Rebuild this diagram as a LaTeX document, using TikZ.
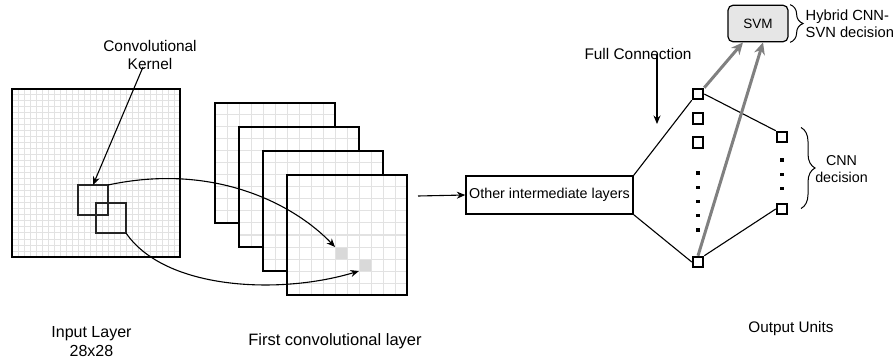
\documentclass[tikz,border=0pt]{standalone}
\usepackage{fontspec}
\setmainfont{Liberation Sans}
\usetikzlibrary{arrows.meta,decorations.pathreplacing}
\definecolor{gridgray}{HTML}{E2E2E2}
\definecolor{cellgray}{HTML}{D9D9D9}
\definecolor{svmgray}{HTML}{E6E6E6}
\definecolor{linkgray}{HTML}{808080}
\newcommand\setfs[2]{\fontsize{#1}{#2}\selectfont}

\begin{document}
\begin{tikzpicture}[x=1pt,y=-1pt,
  gridline/.style={gridgray,line width=1pt},
  plane/.style={draw,line width=2.2pt,minimum size=#1,inner sep=0pt,outer sep=0pt},
  kernel/.style={draw=black!85,line width=1.3pt,minimum size=30pt,inner sep=0pt,outer sep=0pt},
  cell/.style={fill=cellgray,minimum size=12pt,inner sep=0pt,outer sep=0pt},
  unit/.style={draw,line width=2pt,fill=white,minimum size=10.5pt,inner sep=0pt},
  dotmark/.style={fill=black,minimum size=3.4pt,inner sep=0pt},
  lbl/.style={align=center,inner sep=0pt},
  conn/.style={line width=1.1pt},
  arr/.style={line width=1.1pt,-{Stealth[length=8.5pt,width=7pt]}},
  svmarr/.style={linkgray,line width=3pt,-{Stealth[length=12pt,width=11pt]}},
  curly/.style={decorate,decoration={brace,amplitude=#1},line width=1pt}
]
\useasboundingbox (0,0) rectangle (893,363);

% input layer: 28x28 grid of 6pt cells
\fill[white] (12,89) rectangle (180,257);
\foreach \k in {1,...,27} {
  \draw[gridline] (12+6*\k,89) -- (12+6*\k,257);
  \draw[gridline] (12,89+6*\k) -- (180,89+6*\k);
}
\node[plane=168pt,line width=2.4pt] (input) at (96,173) {};
\node[kernel] (k1) at (93,200) {};
\node[kernel] (k2) at (111,218) {};

% stack of feature maps (10x10 grid of 12pt cells)
\foreach \i in {1,...,4} {
  \pgfmathsetmacro\ox{215+24*(\i-1)}
  \pgfmathsetmacro\oy{103+24*(\i-1)}
  \fill[white] (\ox,\oy) rectangle ++(120,120);
  \ifnum\i=4
    \node[cell] (h1) at (341,253) {};
    \node[cell] (h2) at (365,265) {};
  \fi
  \foreach \k in {1,...,9} {
    \draw[gridline] (\ox+12*\k,\oy) -- ++(0,120);
    \draw[gridline] (\ox,\oy+12*\k) -- ++(120,0);
  }
  \node[plane=120pt] (fm\i) at (\ox+60,\oy+60) {};
}

% kernel label and receptive-field mappings
\node[lbl,font=\setfs{15.4}{17.3}] (cklabel) at (150,55) {Convolutional\\Kernel};
\coordinate (ckfoot) at (143,67);
\draw[arr] (ckfoot) -- (k1.north);
\draw[arr] (k1.north east) .. controls (215,162) and (295,205) .. (h1.north west);
\draw[arr] (k2.south east) .. controls (165,290) and (280,295) .. (h2.south west);

% intermediate layers
\node[draw,line width=1.4pt,minimum width=167pt,minimum height=38pt,inner sep=0pt,
      font=\setfs{14.3}{16}] (mid) at (549.5,195) {Other intermediate layers};
\coordinate (fmout) at (418,196);
\draw[arr] (fmout) -- (mid.west);

% fully connected units
\node[unit] (u1) at (698,94) {};
\node[unit] (u2) at (698,118.5) {};
\node[unit] (u3) at (698,142.5) {};
\node[unit] (u4) at (698,262) {};
\foreach \y [count=\n] in {173,187.3,201.5,215.8,230} \node[dotmark] (da\n) at (698,\y) {};
\node[unit] (o1) at (782,137) {};
\node[unit] (o2) at (782,209) {};
\foreach \y [count=\n] in {160,174.3,188.7} \node[dotmark] (db\n) at (782,\y) {};

\draw[conn] (mid.north east) -- (u1.south west);
\draw[conn] (mid.south east) -- (u4.west);
\draw[conn] (u1.east) -- (o1.north west);
\draw[conn] (u4.north east) -- (o2.west);

\node[lbl,font=\setfs{15.4}{17}] (fc) at (638,53.5) {Full Connection};
\coordinate (fcend) at (657,124);
\draw[arr] (fc.south -| fcend) ++(0,-4) -- (fcend);

% SVM stage
\node[draw,line width=1.2pt,rounded corners=5pt,fill=svmgray,minimum width=60pt,
      minimum height=36.5pt,inner sep=0pt,font=\setfs{13.5}{15}] (svm) at (758,23.5) {SVM};
\draw[svmarr] (u1.north east) -- ([xshift=-15pt]svm.south);
\draw[svmarr] (u4.north) -- ([xshift=5pt]svm.south);

\draw[curly=13pt] ([xshift=1.5pt]svm.north east) -- ([xshift=1.5pt]svm.south east);
\node[lbl,align=left,anchor=west,font=\setfs{14.7}{17.3}] (hyb) at (805.5,24) {Hybrid CNN-\\SVN decision};

\coordinate (cbtop) at (801,127.5);
\coordinate (cbbot) at (801,208.5);
\draw[curly=14pt] (cbtop) -- (cbbot);
\node[lbl,font=\setfs{14.3}{16.8}] (cnn) at (841.5,169) {CNN\\decision};

% bottom captions
\node[lbl,font=\setfs{16}{18.5}] (inlbl) at (91.5,341.5) {Input Layer\\28x28};
\node[lbl,font=\setfs{16.5}{18}] (fmlbl) at (335,341.5) {First convolutional layer};
\node[lbl,font=\setfs{15.3}{17}] (outlbl) at (791,329) {Output Units};
\end{tikzpicture}
\end{document}
